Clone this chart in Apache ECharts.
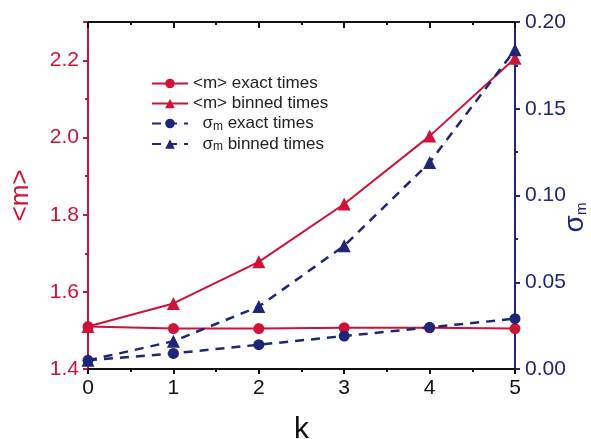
<!DOCTYPE html>
<html><head><meta charset="utf-8">
<script src="https://cdn.jsdelivr.net/npm/echarts@6/dist/echarts.min.js"></script>
<style>html,body{margin:0;padding:0;background:#fff}#c{width:591px;height:439px}</style>
</head><body><div id="c"></div>
<script>
var kValues = [0, 1, 2, 3, 4, 5];
var mExact = [1.510, 1.505, 1.505, 1.507, 1.507, 1.505];
var mBinned = [1.510, 1.570, 1.678, 1.828, 2.004, 2.206];
var sigmaExact = [0.005, 0.009, 0.014, 0.019, 0.024, 0.029];
var sigmaBinned = [0.005, 0.016, 0.036, 0.071, 0.119, 0.184];
var seriesNames = ['m_exact', 'm_binned', 's_exact', 's_binned'];
var legendLabels = {
  m_exact: '<m> exact times',
  m_binned: '<m> binned times',
  s_exact: '  {s|σ}{sub|m} exact times',
  s_binned: '  {s|σ}{sub|m} binned times'
};
var RED = '#cf1238';
var NAVY = '#1d2677';
var FONT = 'Liberation Sans, Arial, sans-serif';
function pairs(vals){ return kValues.map(function(k,i){ return [k, vals[i]]; }); }

var chart = echarts.init(document.getElementById('c'));
chart.setOption({
  animation: false,
  backgroundColor: '#fff',
  textStyle: {fontFamily: FONT},
  grid: {left: 88, right: 76, top: 22, bottom: 70, containLabel: false, outerBoundsMode: 'none'},
  legend: {
    orient: 'vertical', left: 146, top: 70, itemWidth: 36, itemHeight: 12, itemGap: 3,
    data: seriesNames,
    formatter: function(n){ return legendLabels[n]; },
    textStyle: {fontFamily: FONT, fontSize: 17, color: '#222',
      rich: {s: {fontSize: 17, color: '#222'}, sub: {fontSize: 12, color: '#222', verticalAlign: 'bottom', padding: [6,0,0,0]}}}
  },
  xAxis: [{
    type: 'value', min: 0, max: 5, interval: 1, position: 'bottom',
    name: 'k', nameLocation: 'middle', nameGap: 46,
    nameTextStyle: {fontSize: 30, color: '#111', fontFamily: FONT},
    axisLine: {onZero: false, lineStyle: {color: '#111', width: 2}},
    axisTick: {show: true, inside: false, length: 5, lineStyle: {color: '#111', width: 2}},
    minorTick: {show: true, splitNumber: 2, length: 3, lineStyle: {color: '#111', width: 2}},
    axisLabel: {fontSize: 21, color: '#111', margin: 9},
    splitLine: {show: false}
  }, {
    type: 'value', min: 0, max: 5, interval: 1, position: 'top',
    axisLine: {onZero: false, lineStyle: {color: '#111', width: 2}},
    axisTick: {show: true, inside: true, length: 6, lineStyle: {color: '#111', width: 2}},
    minorTick: {show: true, splitNumber: 2, length: 3, lineStyle: {color: '#111', width: 2}},
    axisLabel: {show: false},
    splitLine: {show: false}
  }],
  yAxis: [{
    type: 'value', min: 1.4, max: 2.3, interval: 0.2, position: 'left',
    name: '<m>', nameLocation: 'middle', nameRotate: 90, nameGap: 54, nameMoveOverlap: false,
    nameTextStyle: {fontSize: 26, color: RED, fontFamily: FONT},
    axisLine: {show: true, onZero: false, lineStyle: {color: RED, width: 2}},
    axisTick: {show: true, inside: false, length: 5, lineStyle: {color: RED, width: 2}},
    minorTick: {show: true, splitNumber: 2, length: 3, lineStyle: {color: RED, width: 2}},
    axisLabel: {fontSize: 21, color: RED, margin: 9,
      formatter: function(v){ return Math.abs(v - 2.3) < 1e-6 ? '' : v.toFixed(1); }},
    splitLine: {show: false}
  }, {
    type: 'value', min: 0, max: 0.2, interval: 0.05, position: 'right',
    name: '{s|σ}{sub|m}', nameLocation: 'middle', nameRotate: 90, nameGap: 46, nameMoveOverlap: false,
    nameTextStyle: {color: NAVY, fontFamily: FONT, padding: [0, 44, 0, 0],
      rich: {s: {fontSize: 28, color: NAVY}, sub: {fontSize: 15, color: NAVY, verticalAlign: 'bottom', padding: [10,0,0,0]}}},
    axisLine: {show: true, onZero: false, lineStyle: {color: NAVY, width: 2}},
    axisTick: {show: true, inside: false, length: 5, lineStyle: {color: NAVY, width: 2}},
    minorTick: {show: true, splitNumber: 2, length: 3, lineStyle: {color: NAVY, width: 2}},
    axisLabel: {fontSize: 21, color: NAVY, margin: 10,
      formatter: function(v){ return v.toFixed(2); }},
    splitLine: {show: false}
  }],
  series: [{
    name: 'm_exact', type: 'line', xAxisIndex: 0, yAxisIndex: 0, data: pairs(mExact),
    symbol: 'circle', symbolSize: 11, color: RED, lineStyle: {color: RED, width: 2}, itemStyle: {color: RED}
  }, {
    name: 'm_binned', type: 'line', xAxisIndex: 0, yAxisIndex: 0, data: pairs(mBinned),
    symbol: 'triangle', symbolSize: 13, color: RED, lineStyle: {color: RED, width: 2}, itemStyle: {color: RED}
  }, {
    name: 's_exact', type: 'line', xAxisIndex: 0, yAxisIndex: 1, data: pairs(sigmaExact),
    symbol: 'circle', symbolSize: 11, color: NAVY, lineStyle: {color: NAVY, width: 2.5, type: [9, 7]}, itemStyle: {color: NAVY}
  }, {
    name: 's_binned', type: 'line', xAxisIndex: 0, yAxisIndex: 1, data: pairs(sigmaBinned),
    symbol: 'triangle', symbolSize: 13, color: NAVY, lineStyle: {color: NAVY, width: 2.5, type: [9, 7]}, itemStyle: {color: NAVY}
  }]
});
</script></body></html>
